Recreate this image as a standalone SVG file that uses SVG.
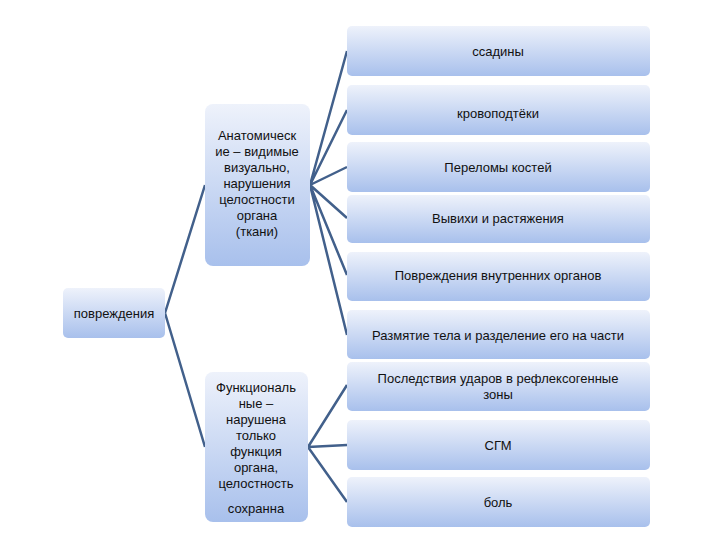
<svg xmlns="http://www.w3.org/2000/svg" width="720" height="540" viewBox="0 0 720 540">
<defs>
<linearGradient id="g" x1="0" y1="0" x2="0" y2="1"><stop offset="0" stop-color="#eef2fb"/><stop offset="1" stop-color="#a8c0ec"/></linearGradient>
<style>
.b{fill:url(#g)}
text{font-family:"Liberation Sans",Arial,sans-serif;font-size:13px;fill:#111;text-anchor:middle}
.c path{fill:none;stroke:#42608b;stroke-width:2.5}
</style>
</defs>
<rect width="720" height="540" fill="#fff"/>
<g class="c">
<path d="M165 313L205 185M165 313L205 447"/>
<path d="M310 185L347 51M310 185L347 110M310 185L347 167M310 185L347 218M310 185L347 275M310 185L347 335"/>
<path d="M308 447L347 385M308 447L347 445M308 447L347 502"/>
</g>
<g id="root"><rect class="b" x="63" y="288" width="102" height="50" rx="5"/><text x="114" y="318">повреждения</text></g>
<g id="anat"><rect class="b" x="205" y="104" width="105" height="162" rx="8"/>
<text x="257" y="140">Анатомическ</text><text x="257" y="156">ие – видимые</text><text x="257" y="172">визуально,</text><text x="257" y="188">нарушения</text><text x="257" y="204">целостности</text><text x="257" y="220">органа</text><text x="257" y="236">(ткани)</text></g>
<g id="func"><rect class="b" x="205" y="372" width="103" height="150" rx="8"/>
<text x="256" y="392">Функциональ</text><text x="256" y="408">ные –</text><text x="256" y="424">нарушена</text><text x="256" y="440">только</text><text x="256" y="456">функция</text><text x="256" y="472">органа,</text><text x="256" y="488">целостность</text><text x="256" y="513">сохранна</text></g>
<g id="n1"><rect class="b" x="347" y="26" width="303" height="50" rx="5"/><text x="498" y="56">ссадины</text></g>
<g id="n2"><rect class="b" x="347" y="85" width="303" height="50" rx="5"/><text x="498" y="118">кровоподтёки</text></g>
<g id="n3"><rect class="b" x="347" y="142" width="303" height="50" rx="5"/><text x="498" y="172">Переломы костей</text></g>
<g id="n4"><rect class="b" x="347" y="195" width="303" height="48" rx="5"/><text x="498" y="223">Вывихи и растяжения</text></g>
<g id="n5"><rect class="b" x="347" y="252" width="303" height="49" rx="5"/><text x="498" y="280">Повреждения внутренних органов</text></g>
<g id="n6"><rect class="b" x="347" y="310" width="303" height="49" rx="5"/><text x="498" y="340">Размятие тела и разделение его на части</text></g>
<g id="n7"><rect class="b" x="347" y="362" width="303" height="49" rx="5"/><text x="498" y="383">Последствия ударов в рефлексогенные</text><text x="498" y="399">зоны</text></g>
<g id="n8"><rect class="b" x="347" y="420" width="303" height="50" rx="5"/><text x="498" y="450">СГМ</text></g>
<g id="n9"><rect class="b" x="347" y="477" width="303" height="50" rx="5"/><text x="498" y="507">боль</text></g>
</svg>
